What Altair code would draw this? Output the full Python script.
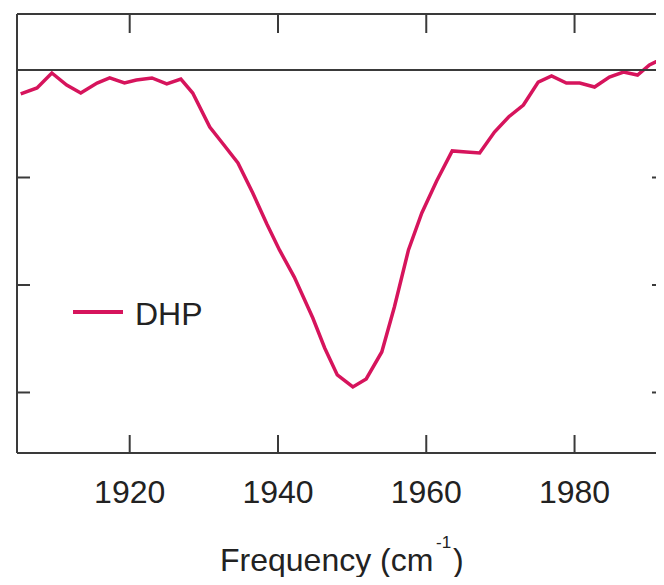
import altair as alt
import pandas as pd

# ---- data ----
freq = [1905.3, 1907.5, 1909.5, 1911.5, 1913.4, 1915.6, 1917.3, 1919.3, 1920.9,
        1923.0, 1925.0, 1926.9, 1928.5, 1930.8, 1932.5, 1934.6, 1936.6, 1938.5,
        1940.2, 1942.2, 1944.7, 1946.3, 1948.0, 1950.1, 1951.9, 1954.0, 1955.7,
        1957.6, 1959.4, 1961.4, 1963.5, 1965.4, 1967.2, 1969.2, 1971.1, 1973.1,
        1975.1, 1976.9, 1978.9, 1980.7, 1982.7, 1984.7, 1986.6, 1988.5, 1990.1,
        1992.0, 1993.5]
signal = [-0.223, -0.167, -0.028, -0.140, -0.214, -0.121, -0.074, -0.121, -0.093,
          -0.074, -0.130, -0.084, -0.214, -0.530, -0.679, -0.865, -1.144, -1.433,
          -1.674, -1.926, -2.307, -2.586, -2.837, -2.949, -2.874, -2.623, -2.205,
          -1.674, -1.330, -1.033, -0.753, -0.763, -0.772, -0.577, -0.437, -0.326,
          -0.112, -0.056, -0.121, -0.121, -0.158, -0.065, -0.019, -0.047, 0.047,
          0.112, 0.150]
series_name = ["DHP"]
x_ticks = [1920, 1940, 1960, 1980]
x_tick_labels = ["1920", "1940", "1960", "1980"]
y_ticks = [0, -1, -2, -3]
x_domain = [1904.8, 1992.2]
y_domain = [-3.563, 0.521]

RED = "#d6145c"
FRAME = "#3a3a3a"
TXT = "#222222"
FONT = "Liberation Sans"
FS = 32
W, H = 648, 439

df = pd.DataFrame({"freq": freq, "signal": signal, "series": series_name[0]})
xs = alt.Scale(domain=x_domain, nice=False, zero=False)
ys = alt.Scale(domain=y_domain, nice=False, zero=False)

line = alt.Chart(df).mark_line(color=RED, strokeWidth=3.5, clip=True).encode(
    x=alt.X("freq:Q", scale=xs, axis=None),
    y=alt.Y("signal:Q", scale=ys, axis=None),
)

one = pd.DataFrame({"a": [0]})
left = alt.Chart(one).mark_rule(color=FRAME, strokeWidth=2).encode(
    x=alt.value(0), y=alt.value(0), y2=alt.value(H))
top = alt.Chart(one).mark_rule(color=FRAME, strokeWidth=2).encode(
    x=alt.value(0), x2=alt.value(W + 5), y=alt.value(0))
bottom = alt.Chart(one).mark_rule(color=FRAME, strokeWidth=2).encode(
    x=alt.value(0), x2=alt.value(W + 5), y=alt.value(H))

zero = alt.Chart(pd.DataFrame({"v": [0]})).mark_rule(color=FRAME, strokeWidth=2).encode(
    y=alt.Y("v:Q", scale=ys, axis=None), x=alt.value(0), x2=alt.value(W + 5))

ydf = pd.DataFrame({"v": y_ticks})
yt_left = alt.Chart(ydf).mark_rule(color=FRAME, strokeWidth=2).encode(
    y=alt.Y("v:Q", scale=ys, axis=None), x=alt.value(0), x2=alt.value(13))
yt_right = alt.Chart(ydf).mark_rule(color=FRAME, strokeWidth=2).encode(
    y=alt.Y("v:Q", scale=ys, axis=None), x=alt.value(W - 13), x2=alt.value(W))

xdf = pd.DataFrame({"f": x_ticks, "lab": x_tick_labels})
xt_top = alt.Chart(xdf).mark_rule(color=FRAME, strokeWidth=2).encode(
    x=alt.X("f:Q", scale=xs, axis=None), y=alt.value(0), y2=alt.value(19))
xt_bot = alt.Chart(xdf).mark_rule(color=FRAME, strokeWidth=2).encode(
    x=alt.X("f:Q", scale=xs, axis=None), y=alt.value(H - 18), y2=alt.value(H))
xt_lab = alt.Chart(xdf).mark_text(font=FONT, fontSize=FS, align="center",
                                  baseline="alphabetic", color=TXT).encode(
    x=alt.X("f:Q", scale=xs, axis=None), y=alt.value(489), text="lab:N")

ldf = pd.DataFrame({"series": series_name})
leg_line = alt.Chart(ldf).mark_rule(color=RED, strokeWidth=4).encode(
    x=alt.value(56), x2=alt.value(106), y=alt.value(298))
leg_text = alt.Chart(ldf).mark_text(font=FONT, fontSize=FS, align="left",
                                    baseline="alphabetic", color=TXT).encode(
    x=alt.value(118), y=alt.value(311), text="series:N")

t_main = alt.Chart(one).mark_text(text="Frequency (cm", font=FONT, fontSize=FS,
                                  align="left", baseline="alphabetic",
                                  color=TXT).encode(
    x=alt.value(203), y=alt.value(557))
t_sup = alt.Chart(one).mark_text(text="-1", font=FONT, fontSize=17,
                                 align="left", baseline="alphabetic",
                                 color=TXT).encode(
    x=alt.value(419), y=alt.value(534))
t_par = alt.Chart(one).mark_text(text=")", font=FONT, fontSize=FS,
                                 align="left", baseline="alphabetic",
                                 color=TXT).encode(
    x=alt.value(436), y=alt.value(557))

chart = alt.layer(line, left, top, bottom, zero, yt_left, yt_right, xt_top, xt_bot,
                  xt_lab, leg_line, leg_text, t_main, t_sup, t_par).properties(
    width=W, height=H,
    autosize=alt.AutoSizeParams(type="none"),
    padding={"left": 9, "top": 6, "right": -9, "bottom": 124},
).configure_view(stroke=None)

chart.save("out.html", embed_options={"renderer": "svg", "actions": False})
